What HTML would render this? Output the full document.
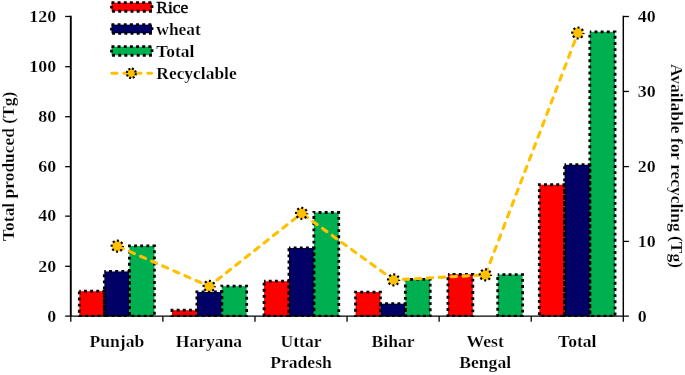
<!DOCTYPE html>
<html><head><meta charset="utf-8"><title>Chart</title>
<style>html,body{margin:0;padding:0;background:#fff}svg{display:block}</style></head>
<body>
<svg width="685" height="375" viewBox="0 0 685 375">
<rect width="685" height="375" fill="#fff"/>
<clipPath id="pc"><rect x="0" y="0" width="685" height="316.90"/></clipPath>
<g clip-path="url(#pc)">
<rect x="79.30" y="291.21" width="25.04" height="24.99" fill="#ff0000"/>
<rect x="104.34" y="271.46" width="25.04" height="44.74" fill="#000066"/>
<rect x="129.39" y="245.97" width="25.04" height="70.23" fill="#00b050"/>
<rect x="79.30" y="291.21" width="25.04" height="24.99" fill="none" stroke="#000" stroke-width="2.8" stroke-dasharray="2.9 3.25" stroke-dashoffset="1.45"/>
<rect x="104.34" y="271.46" width="25.04" height="44.74" fill="none" stroke="#000" stroke-width="2.8" stroke-dasharray="2.9 3.25" stroke-dashoffset="1.45"/>
<rect x="129.39" y="245.97" width="25.04" height="70.23" fill="none" stroke="#000" stroke-width="2.8" stroke-dasharray="2.9 3.25" stroke-dashoffset="1.45"/>
<rect x="171.98" y="310.20" width="24.89" height="6.00" fill="#ff0000"/>
<rect x="196.88" y="291.96" width="24.89" height="24.24" fill="#000066"/>
<rect x="221.77" y="286.21" width="24.89" height="29.99" fill="#00b050"/>
<rect x="171.98" y="310.20" width="24.89" height="6.00" fill="none" stroke="#000" stroke-width="2.8" stroke-dasharray="2.9 3.25" stroke-dashoffset="1.45"/>
<rect x="196.88" y="291.96" width="24.89" height="24.24" fill="none" stroke="#000" stroke-width="2.8" stroke-dasharray="2.9 3.25" stroke-dashoffset="1.45"/>
<rect x="221.77" y="286.21" width="24.89" height="29.99" fill="none" stroke="#000" stroke-width="2.8" stroke-dasharray="2.9 3.25" stroke-dashoffset="1.45"/>
<rect x="264.07" y="281.21" width="24.89" height="34.99" fill="#ff0000"/>
<rect x="288.96" y="247.97" width="24.89" height="68.23" fill="#000066"/>
<rect x="313.86" y="212.48" width="24.89" height="103.72" fill="#00b050"/>
<rect x="264.07" y="281.21" width="24.89" height="34.99" fill="none" stroke="#000" stroke-width="2.8" stroke-dasharray="2.9 3.25" stroke-dashoffset="1.45"/>
<rect x="288.96" y="247.97" width="24.89" height="68.23" fill="none" stroke="#000" stroke-width="2.8" stroke-dasharray="2.9 3.25" stroke-dashoffset="1.45"/>
<rect x="313.86" y="212.48" width="24.89" height="103.72" fill="none" stroke="#000" stroke-width="2.8" stroke-dasharray="2.9 3.25" stroke-dashoffset="1.45"/>
<rect x="355.55" y="292.03" width="24.89" height="24.17" fill="#ff0000"/>
<rect x="380.44" y="303.70" width="24.89" height="12.50" fill="#000066"/>
<rect x="405.34" y="279.29" width="24.89" height="36.91" fill="#00b050"/>
<rect x="355.55" y="292.03" width="24.89" height="24.17" fill="none" stroke="#000" stroke-width="2.8" stroke-dasharray="2.9 3.25" stroke-dashoffset="1.45"/>
<rect x="380.44" y="303.70" width="24.89" height="12.50" fill="none" stroke="#000" stroke-width="2.8" stroke-dasharray="2.9 3.25" stroke-dashoffset="1.45"/>
<rect x="405.34" y="279.29" width="24.89" height="36.91" fill="none" stroke="#000" stroke-width="2.8" stroke-dasharray="2.9 3.25" stroke-dashoffset="1.45"/>
<rect x="447.93" y="274.29" width="24.89" height="41.91" fill="#ff0000"/>
<rect x="472.83" y="316.20" width="24.89" height="0.00" fill="#000066"/>
<rect x="497.72" y="274.54" width="24.89" height="41.66" fill="#00b050"/>
<rect x="447.93" y="274.29" width="24.89" height="41.91" fill="none" stroke="#000" stroke-width="2.8" stroke-dasharray="2.9 3.25" stroke-dashoffset="1.45"/>
<rect x="472.83" y="316.20" width="24.89" height="0.00" fill="none" stroke="#000" stroke-width="2.8" stroke-dasharray="2.9 3.25" stroke-dashoffset="1.45"/>
<rect x="497.72" y="274.54" width="24.89" height="41.66" fill="none" stroke="#000" stroke-width="2.8" stroke-dasharray="2.9 3.25" stroke-dashoffset="1.45"/>
<rect x="539.32" y="184.74" width="25.24" height="131.46" fill="#ff0000"/>
<rect x="564.56" y="164.75" width="25.24" height="151.45" fill="#000066"/>
<rect x="589.81" y="31.79" width="25.24" height="284.41" fill="#00b050"/>
<rect x="539.32" y="184.74" width="25.24" height="131.46" fill="none" stroke="#000" stroke-width="2.8" stroke-dasharray="2.9 3.25" stroke-dashoffset="1.45"/>
<rect x="564.56" y="164.75" width="25.24" height="151.45" fill="none" stroke="#000" stroke-width="2.8" stroke-dasharray="2.9 3.25" stroke-dashoffset="1.45"/>
<rect x="589.81" y="31.79" width="25.24" height="284.41" fill="none" stroke="#000" stroke-width="2.8" stroke-dasharray="2.9 3.25" stroke-dashoffset="1.45"/>
</g>
<g stroke="#000" stroke-width="1.3" fill="none">
<path d="M70.8 15.80 V316.84999999999997" stroke-width="1.9"/>
<path d="M623.3 15.85 V316.84999999999997" stroke-width="1.45"/>
<path d="M65.2 316.2 H628.9"/>
<path d="M65.2 266.30 H70.8"/>
<path d="M65.2 216.15 H70.8"/>
<path d="M65.2 166.65 H70.8"/>
<path d="M65.2 116.70 H70.8"/>
<path d="M65.2 66.70 H70.8"/>
<path d="M65.2 16.45 H70.8"/>
<path d="M623.3 241.40 H628.9"/>
<path d="M623.3 166.60 H628.9"/>
<path d="M623.3 91.45 H628.9"/>
<path d="M623.3 16.50 H628.9"/>
<path d="M70.80 316.2 V321.8"/>
<path d="M162.88 316.2 V321.8"/>
<path d="M254.97 316.2 V321.8"/>
<path d="M347.05 316.2 V321.8"/>
<path d="M439.13 316.2 V321.8"/>
<path d="M531.22 316.2 V321.8"/>
<path d="M623.30 316.2 V321.8"/>
</g>
<line x1="117.24" y1="246.10" x2="209.23" y2="286.28" stroke="#ffc000" stroke-width="3.1" stroke-linecap="round" stroke-dasharray="5.4 6.70" stroke-dashoffset="10.89"/>
<line x1="209.23" y1="286.28" x2="301.61" y2="213.33" stroke="#ffc000" stroke-width="3.1" stroke-linecap="round" stroke-dasharray="5.4 6.57" stroke-dashoffset="1.98"/>
<line x1="301.61" y1="213.33" x2="393.59" y2="279.91" stroke="#ffc000" stroke-width="3.1" stroke-linecap="round" stroke-dasharray="5.4 6.55" stroke-dashoffset="10.04"/>
<line x1="393.59" y1="279.91" x2="485.38" y2="274.89" stroke="#ffc000" stroke-width="3.1" stroke-linecap="round" stroke-dasharray="5.4 6.55" stroke-dashoffset="2.19"/>
<line x1="485.38" y1="274.89" x2="577.86" y2="33.02" stroke="#ffc000" stroke-width="3.1" stroke-linecap="round" stroke-dasharray="5.4 6.81" stroke-dashoffset="11.36"/>
<ellipse cx="117.24" cy="246.10" rx="5.6" ry="5.5" fill="#ffc000" stroke="#000" stroke-width="2.2" stroke-dasharray="2.0 2.36" stroke-dashoffset="1.0"/>
<ellipse cx="209.23" cy="286.28" rx="5.6" ry="5.5" fill="#ffc000" stroke="#000" stroke-width="2.2" stroke-dasharray="2.0 2.36" stroke-dashoffset="1.0"/>
<ellipse cx="301.61" cy="213.33" rx="5.6" ry="5.5" fill="#ffc000" stroke="#000" stroke-width="2.2" stroke-dasharray="2.0 2.36" stroke-dashoffset="1.0"/>
<ellipse cx="393.59" cy="279.91" rx="5.6" ry="5.5" fill="#ffc000" stroke="#000" stroke-width="2.2" stroke-dasharray="2.0 2.36" stroke-dashoffset="1.0"/>
<ellipse cx="485.38" cy="274.89" rx="5.6" ry="5.5" fill="#ffc000" stroke="#000" stroke-width="2.2" stroke-dasharray="2.0 2.36" stroke-dashoffset="1.0"/>
<ellipse cx="577.86" cy="33.02" rx="5.6" ry="5.5" fill="#ffc000" stroke="#000" stroke-width="2.2" stroke-dasharray="2.0 2.36" stroke-dashoffset="1.0"/>
<text transform="translate(56.20 321.50) scale(1.02 1)" font-family="Liberation Serif, Times New Roman, serif" font-size="17.6" font-weight="bold" text-anchor="end" fill="#000" stroke="#fff" stroke-width="0.2">0</text>
<text transform="translate(56.20 271.60) scale(1.02 1)" font-family="Liberation Serif, Times New Roman, serif" font-size="17.6" font-weight="bold" text-anchor="end" fill="#000" stroke="#fff" stroke-width="0.2">20</text>
<text transform="translate(56.20 221.45) scale(1.02 1)" font-family="Liberation Serif, Times New Roman, serif" font-size="17.6" font-weight="bold" text-anchor="end" fill="#000" stroke="#fff" stroke-width="0.2">40</text>
<text transform="translate(56.20 171.95) scale(1.02 1)" font-family="Liberation Serif, Times New Roman, serif" font-size="17.6" font-weight="bold" text-anchor="end" fill="#000" stroke="#fff" stroke-width="0.2">60</text>
<text transform="translate(56.20 122.00) scale(1.02 1)" font-family="Liberation Serif, Times New Roman, serif" font-size="17.6" font-weight="bold" text-anchor="end" fill="#000" stroke="#fff" stroke-width="0.2">80</text>
<text transform="translate(56.20 72.00) scale(1.02 1)" font-family="Liberation Serif, Times New Roman, serif" font-size="17.6" font-weight="bold" text-anchor="end" fill="#000" stroke="#fff" stroke-width="0.2">100</text>
<text transform="translate(56.20 21.75) scale(1.02 1)" font-family="Liberation Serif, Times New Roman, serif" font-size="17.6" font-weight="bold" text-anchor="end" fill="#000" stroke="#fff" stroke-width="0.2">120</text>
<text transform="translate(637.80 321.50) scale(1.02 1)" font-family="Liberation Serif, Times New Roman, serif" font-size="17.6" font-weight="bold" text-anchor="start" fill="#000" stroke="#fff" stroke-width="0.2">0</text>
<text transform="translate(637.80 246.70) scale(1.02 1)" font-family="Liberation Serif, Times New Roman, serif" font-size="17.6" font-weight="bold" text-anchor="start" fill="#000" stroke="#fff" stroke-width="0.2">10</text>
<text transform="translate(637.80 171.90) scale(1.02 1)" font-family="Liberation Serif, Times New Roman, serif" font-size="17.6" font-weight="bold" text-anchor="start" fill="#000" stroke="#fff" stroke-width="0.2">20</text>
<text transform="translate(637.80 96.75) scale(1.02 1)" font-family="Liberation Serif, Times New Roman, serif" font-size="17.6" font-weight="bold" text-anchor="start" fill="#000" stroke="#fff" stroke-width="0.2">30</text>
<text transform="translate(637.80 21.80) scale(1.02 1)" font-family="Liberation Serif, Times New Roman, serif" font-size="17.6" font-weight="bold" text-anchor="start" fill="#000" stroke="#fff" stroke-width="0.2">40</text>
<text transform="translate(116.84 347.30) scale(1.0 1)" font-family="Liberation Serif, Times New Roman, serif" font-size="17.6" font-weight="bold" text-anchor="middle" fill="#000" stroke="#fff" stroke-width="0.2">Punjab</text>
<text transform="translate(208.93 347.30) scale(1.0 1)" font-family="Liberation Serif, Times New Roman, serif" font-size="17.6" font-weight="bold" text-anchor="middle" fill="#000" stroke="#fff" stroke-width="0.2">Haryana</text>
<text transform="translate(301.01 347.30) scale(1.0 1)" font-family="Liberation Serif, Times New Roman, serif" font-size="17.6" font-weight="bold" text-anchor="middle" fill="#000" stroke="#fff" stroke-width="0.2">Uttar</text>
<text transform="translate(301.01 367.80) scale(1.0 1)" font-family="Liberation Serif, Times New Roman, serif" font-size="17.6" font-weight="bold" text-anchor="middle" fill="#000" stroke="#fff" stroke-width="0.2">Pradesh</text>
<text transform="translate(393.09 347.30) scale(1.0 1)" font-family="Liberation Serif, Times New Roman, serif" font-size="17.6" font-weight="bold" text-anchor="middle" fill="#000" stroke="#fff" stroke-width="0.2">Bihar</text>
<text transform="translate(485.18 347.30) scale(1.0 1)" font-family="Liberation Serif, Times New Roman, serif" font-size="17.6" font-weight="bold" text-anchor="middle" fill="#000" stroke="#fff" stroke-width="0.2">West</text>
<text transform="translate(485.18 367.80) scale(1.0 1)" font-family="Liberation Serif, Times New Roman, serif" font-size="17.6" font-weight="bold" text-anchor="middle" fill="#000" stroke="#fff" stroke-width="0.2">Bengal</text>
<text transform="translate(577.26 347.30) scale(1.0 1)" font-family="Liberation Serif, Times New Roman, serif" font-size="17.6" font-weight="bold" text-anchor="middle" fill="#000" stroke="#fff" stroke-width="0.2">Total</text>
<text transform="translate(14.20 166.30) rotate(-90) scale(1.0 1)" font-family="Liberation Serif, Times New Roman, serif" font-size="17.45" font-weight="bold" text-anchor="middle" fill="#000" stroke="#fff" stroke-width="0.2">Total produced (Tg)</text>
<text transform="translate(670.60 166.00) rotate(90) scale(1.0 1)" font-family="Liberation Serif, Times New Roman, serif" font-size="17.45" font-weight="bold" text-anchor="middle" fill="#000" stroke="#fff" stroke-width="0.2">Available for recycling (Tg)</text>
<rect x="111.5" y="2.65" width="40.5" height="8.6" fill="#ff0000" stroke="#000" stroke-width="2.8" stroke-dasharray="2.9 3.25"/>
<text transform="translate(156.30 12.90) scale(1.0 1)" font-family="Liberation Serif, Times New Roman, serif" font-size="17.45" font-weight="normal" text-anchor="start" fill="#000" stroke="#000" stroke-width="0.5">Rice</text>
<rect x="111.5" y="24.65" width="40.5" height="8.6" fill="#000066" stroke="#000" stroke-width="2.8" stroke-dasharray="2.9 3.25"/>
<text transform="translate(156.30 34.95) scale(1.0 1)" font-family="Liberation Serif, Times New Roman, serif" font-size="17.45" font-weight="bold" text-anchor="start" fill="#000" stroke="#fff" stroke-width="0.2">wheat</text>
<rect x="111.5" y="46.65" width="40.5" height="8.6" fill="#00b050" stroke="#000" stroke-width="2.8" stroke-dasharray="2.9 3.25"/>
<text transform="translate(156.30 57.00) scale(1.0 1)" font-family="Liberation Serif, Times New Roman, serif" font-size="17.45" font-weight="bold" text-anchor="start" fill="#000" stroke="#fff" stroke-width="0.2">Total</text>
<path d="M111.7 73.3 H151.6" stroke="#ffc000" stroke-width="2.9" stroke-linecap="round" stroke-dasharray="5.4 6.6" fill="none"/>
<ellipse cx="131.3" cy="73.3" rx="4.5" ry="4.7" fill="#ffc000" stroke="#000" stroke-width="2.1" stroke-dasharray="2.0 1.62"/>
<text transform="translate(156.30 78.80) scale(1.0 1)" font-family="Liberation Serif, Times New Roman, serif" font-size="17.45" font-weight="bold" text-anchor="start" fill="#000" stroke="#fff" stroke-width="0.2">Recyclable</text>
</svg>
</body></html>
